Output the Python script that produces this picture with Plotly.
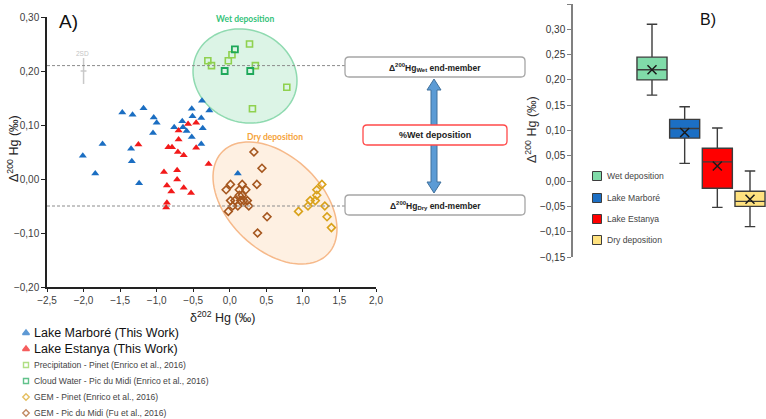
import numpy as np
import plotly.graph_objects as go

# ---------------- data ----------------
marbore_x = [-2.01, -1.84, -1.74, -1.47, -1.33, -1.18, -1.35, -1.34, -1.24, -1.04, -1.00, -1.05,
             -0.76, -0.65, -0.64, -0.59, -0.52, -0.51, -0.52, -0.38, -0.39, -0.37, -0.39, -0.28, 0.11]
marbore_y = [0.043, 0.010, 0.065, 0.123, 0.119, 0.131, 0.056, 0.033, -0.008, 0.114, 0.104, 0.085,
             0.096, 0.107, 0.096, 0.089, 0.130, 0.116, 0.078, 0.145, 0.113, 0.094, 0.065, 0.127, 0.010]

estanya_x = [-1.25, -0.84, -0.79, -0.70, -0.71, -0.70, -0.63, -0.57, -0.46, -0.46, -0.29, -0.90,
             -0.72, -0.72, -0.86, -0.80, -0.63, -0.53, -0.86, -0.87]
estanya_y = [0.064, 0.059, 0.059, 0.090, 0.050, 0.073, 0.044, 0.102, 0.104, 0.058, 0.028, 0.013,
             0.016, -0.001, -0.012, -0.023, -0.016, -0.026, -0.044, -0.053]

precip_x = [-0.30, -0.25, -0.02, 0.03, 0.27, 0.35, 0.78, 0.31]
precip_y = [0.219, 0.210, 0.219, 0.230, 0.250, 0.210, 0.170, 0.130]

cloud_x = [0.07, -0.07, 0.28]
cloud_y = [0.240, 0.200, 0.200]

gem_pinet_x = [0.94, 1.07, 1.10, 1.17, 1.19, 1.19, 1.26, 1.30, 1.33, 1.39]
gem_pinet_y = [-0.060, -0.050, -0.040, -0.040, -0.030, -0.020, -0.010, -0.050, -0.070, -0.090]

gem_pdm_x = [0.33, 0.44, 0.37, -0.05, 0.01, 0.17, 0.13, 0.22, 0.17, 0.01, 0.07, 0.19, 0.24, 0.15,
             0.04, 0.11, 0.26, -0.02, 0.51, 0.38, 0.13]
gem_pdm_y = [0.050, 0.020, -0.010, -0.020, -0.010, -0.010, -0.020, -0.020, -0.030, -0.040, -0.040,
             -0.040, -0.040, -0.040, -0.050, -0.050, -0.050, -0.060, -0.070, -0.100, -0.030]

wet_end_member = 0.21
dry_end_member = -0.05
sd2_x, sd2_y, sd2_err_y, sd2_err_x = -2.0, 0.20, 0.024, 0.04

box_names = ["Wet deposition", "Lake Marboré", "Lake Estanya", "Dry deposition"]
box_q1 = [0.200, 0.085, -0.014, -0.050]
box_median = [0.220, 0.104, 0.038, -0.040]
box_q3 = [0.245, 0.122, 0.065, -0.020]
box_low = [0.170, 0.035, -0.052, -0.090]
box_high = [0.310, 0.147, 0.105, 0.020]
box_mean = [0.220, 0.096, 0.030, -0.036]

legend_a_labels = ["Lake Marboré (This Work)", "Lake Estanya (This Work)",
                   "Precipitation - Pinet (Enrico et al., 2016)",
                   "Cloud Water - Pic du Midi (Enrico et al., 2016)",
                   "GEM - Pinet (Enrico et al., 2016)",
                   "GEM - Pic du Midi (Fu et al., 2016)"]

# ---------------- styles ----------------
W, H = 766, 419
FONT = "Liberation Sans, Arial, sans-serif"
C_BLUE = "#1b6ec2"
C_RED = "#f21a1a"
C_PRECIP = "#8fd14f"
C_CLOUD = "#1ea85a"
C_PINET = "#d9a21b"
C_PDM = "#a5561e"
BOX_FILL = ["#80dba9", "#1c6fc4", "#ff0000", "#ffe27f"]

# pixel geometry of panel A
AX_L, AX_R, AX_T, AX_B = 47, 376, 17, 287
XR = [-2.5, 2.0]
YR = [-0.20, 0.30]
sx = (AX_R - AX_L) / (XR[1] - XR[0])
sy = (AX_B - AX_T) / (YR[1] - YR[0])

def px2data(px, py):
    return XR[0] + (px - AX_L) / sx, YR[1] - (py - AX_T) / sy

fig = go.Figure()

# ellipses (pixel-space ellipse params -> data coordinates)
def ellipse_path(cpx, cpy, a, b, ang_deg):
    t = np.linspace(0, 2 * np.pi, 90)
    th = np.radians(ang_deg)
    ex = cpx + a * np.cos(t) * np.cos(th) - b * np.sin(t) * np.sin(th)
    ey = cpy + a * np.cos(t) * np.sin(th) + b * np.sin(t) * np.cos(th)
    pts = [px2data(u, v) for u, v in zip(ex, ey)]
    return "M " + " L ".join(f"{u:.4f},{v:.4f}" for u, v in pts) + " Z"

shapes = []
shapes.append(dict(type="path", xref="x", yref="y", layer="below",
                   path=ellipse_path(245, 76, 53, 46, 23),
                   fillcolor="rgba(130,215,165,0.28)", line=dict(color="#8fdab0", width=1.5)))
shapes.append(dict(type="path", xref="x", yref="y", layer="below",
                   path=ellipse_path(275, 203, 73.5, 46.6, 44),
                   fillcolor="rgba(250,195,140,0.25)", line=dict(color="#f6b98a", width=1.5)))

# dashed end-member lines
x_end = px2data(345, 0)[0]
for yv in (wet_end_member, dry_end_member):
    shapes.append(dict(type="line", xref="x", yref="y", x0=XR[0], x1=x_end, y0=yv, y1=yv,
                       line=dict(color="#8c8c8c", width=1, dash="3px,2px"), layer="above"))

# scatter series
mk_tri = dict(symbol="triangle-up", size=7)
fig.add_trace(go.Scatter(x=marbore_x, y=marbore_y, mode="markers", name=legend_a_labels[0],
                         marker=dict(color=C_BLUE, **mk_tri), showlegend=False))
fig.add_trace(go.Scatter(x=estanya_x, y=estanya_y, mode="markers", name=legend_a_labels[1],
                         marker=dict(color=C_RED, **mk_tri), showlegend=False))
fig.add_trace(go.Scatter(x=precip_x, y=precip_y, mode="markers", name=legend_a_labels[2],
                         marker=dict(symbol="square-open", size=6, color=C_PRECIP, line=dict(width=1.6)),
                         showlegend=False))
fig.add_trace(go.Scatter(x=cloud_x, y=cloud_y, mode="markers", name=legend_a_labels[3],
                         marker=dict(symbol="square-open", size=6, color=C_CLOUD, line=dict(width=1.8)),
                         showlegend=False))
fig.add_trace(go.Scatter(x=gem_pinet_x, y=gem_pinet_y, mode="markers", name=legend_a_labels[4],
                         marker=dict(symbol="diamond-open", size=6, color=C_PINET, line=dict(width=1.6)),
                         showlegend=False))
fig.add_trace(go.Scatter(x=gem_pdm_x, y=gem_pdm_y, mode="markers", name=legend_a_labels[5],
                         marker=dict(symbol="diamond-open", size=6, color=C_PDM, line=dict(width=1.6)),
                         showlegend=False))
# 2SD marker
fig.add_trace(go.Scatter(x=[sd2_x], y=[sd2_y], mode="markers", marker=dict(size=1, color="#c8c8c8"),
                         error_y=dict(type="constant", value=sd2_err_y, color="#c8c8c8", thickness=1.5, width=0),
                         error_x=dict(type="constant", value=sd2_err_x, color="#c8c8c8", thickness=1.5, width=0),
                         showlegend=False, hoverinfo="skip"))

# ---------------- panel B boxes ----------------
for i, nm in enumerate(box_names):
    fig.add_trace(go.Box(x=[i], q1=[box_q1[i]], median=[box_median[i]], q3=[box_q3[i]],
                         lowerfence=[box_low[i]], upperfence=[box_high[i]], name=nm,
                         fillcolor=BOX_FILL[i], line=dict(color="#3c3c3c", width=1.4),
                         width=0.92, whiskerwidth=0.35, boxpoints=False,
                         xaxis="x2", yaxis="y2", showlegend=False))
fig.add_trace(go.Scatter(x=list(range(len(box_names))), y=box_mean, mode="markers",
                         marker=dict(symbol="x-thin", size=9, line=dict(width=1.5, color="#1a1a1a")),
                         xaxis="x2", yaxis="y2", showlegend=False, hoverinfo="skip"))

# ---------------- manual legends on a pixel overlay axis ----------------
leg_y = [333, 349, 365, 381, 397, 413]
leg_sym = ["triangle-up", "triangle-up", "square-open", "square-open", "diamond-open", "diamond-open"]
leg_col = [C_BLUE, C_RED, C_PRECIP, C_CLOUD, C_PINET, C_PDM]
leg_size = [6, 6, 5, 5, 5, 5]
fig.add_trace(go.Scatter(x=[26] * 6, y=leg_y, mode="markers", xaxis="x3", yaxis="y3",
                         marker=dict(symbol=leg_sym, color=leg_col, size=leg_size, line=dict(width=1.4, color=leg_col)),
                         showlegend=False, hoverinfo="skip"))
leg_b_y = [176, 198, 219, 240]
fig.add_trace(go.Scatter(x=[597] * 4, y=leg_b_y, mode="markers", xaxis="x3", yaxis="y3",
                         marker=dict(symbol="square", color=BOX_FILL, size=9, line=dict(width=1, color="#3c3c3c")),
                         showlegend=False, hoverinfo="skip"))

annotations = []
for i, lab in enumerate(legend_a_labels):
    big = i < 2
    annotations.append(dict(x=32, y=leg_y[i], xref="x3", yref="y3", text=lab, showarrow=False,
                            xanchor="left", yanchor="middle",
                            font=dict(family=FONT, size=12.5 if big else 8.6, color="#111" if big else "#444")))
for i, lab in enumerate(box_names):
    annotations.append(dict(x=605, y=leg_b_y[i], xref="x3", yref="y3", text=lab, showarrow=False,
                            xanchor="left", yanchor="middle", font=dict(family=FONT, size=8.6, color="#444")))

# arrow
cx, top, bot, sh, hh, hl = 434, 79, 193, 3, 7, 11
arrow_pts = [(cx, top), (cx + hh, top + hl), (cx + sh, top + hl), (cx + sh, bot - hl), (cx + hh, bot - hl),
             (cx, bot), (cx - hh, bot - hl), (cx - sh, bot - hl), (cx - sh, top + hl), (cx - hh, top + hl)]
shapes.append(dict(type="path", xref="x3", yref="y3", layer="above",
                   path="M " + " L ".join(f"{u},{v}" for u, v in arrow_pts) + " Z",
                   fillcolor="#5b9bd5", line=dict(color="#41719c", width=1)))

def rrect(x0, y0, x1, y1, r=4):
    return (f"M {x0 + r},{y0} L {x1 - r},{y0} Q {x1},{y0} {x1},{y0 + r} L {x1},{y1 - r} "
            f"Q {x1},{y1} {x1 - r},{y1} L {x0 + r},{y1} Q {x0},{y1} {x0},{y1 - r} "
            f"L {x0},{y0 + r} Q {x0},{y0} {x0 + r},{y0} Z")

for (x0, y0, x1, y1, col) in [(345, 57, 525, 77, "#a6a6a6"), (345, 195, 525, 215, "#a6a6a6"),
                              (363, 125, 507, 145, "#ff4a4a")]:
    shapes.append(dict(type="path", xref="x3", yref="y3", layer="above", path=rrect(x0, y0, x1, y1),
                       fillcolor="white", line=dict(color=col, width=1.3)))

box_font = dict(family=FONT, size=8.5, color="#222")
annotations += [
    dict(x=435, y=67, xref="x3", yref="y3", showarrow=False,
         text="<b>Δ<sup>200</sup>Hg<sub>Wet</sub> end-member</b>", font=box_font),
    dict(x=435, y=205, xref="x3", yref="y3", showarrow=False,
         text="<b>Δ<sup>200</sup>Hg<sub>Dry</sub> end-member</b>", font=box_font),
    dict(x=435, y=135, xref="x3", yref="y3", showarrow=False,
         text="<b>%Wet deposition</b>", font=dict(family=FONT, size=9, color="#222")),
    dict(x=245, y=19, xref="x3", yref="y3", showarrow=False, text="<b>Wet deposition</b>",
         font=dict(family="Lato, " + FONT, size=8.5, color="#35c27a")),
    dict(x=275, y=137, xref="x3", yref="y3", showarrow=False, text="<b>Dry deposition</b>",
         font=dict(family="Lato, " + FONT, size=8.5, color="#f5a33a")),
    dict(x=82, y=53, xref="x3", yref="y3", showarrow=False, text="2SD",
         font=dict(family=FONT, size=6.5, color="#c4c4c4")),
    dict(x=57, y=21, xref="x3", yref="y3", showarrow=False, text="A)", xanchor="left",
         font=dict(family=FONT, size=19, color="#111")),
    dict(x=698, y=19, xref="x3", yref="y3", showarrow=False, text="B)", xanchor="left",
         font=dict(family=FONT, size=16, color="#111")),
    dict(x=222, y=317, xref="x3", yref="y3", showarrow=False, text="δ<sup>202</sup> Hg (‰)",
         font=dict(family=FONT, size=12.5, color="#222")),
    dict(x=13, y=149, xref="x3", yref="y3", showarrow=False, text="Δ<sup>200</sup> Hg (‰)", textangle=-90,
         font=dict(family=FONT, size=12.5, color="#222")),
    dict(x=531, y=130, xref="x3", yref="y3", showarrow=False, text="Δ<sup>200</sup> Hg (‰)", textangle=-90,
         font=dict(family=FONT, size=12.5, color="#333")),
]

# panel B pixel geometry
B_L, B_T, B_B = 573, 4, 257
b_centers_px = [652, 684.7, 717.4, 750]
b_step = (b_centers_px[-1] - b_centers_px[0]) / 3
b_x0 = -(b_centers_px[0] - B_L) / b_step
b_x1 = 3 + (W - b_centers_px[-1]) / b_step

tickfont = dict(family=FONT, size=10, color="#404040")
fig.update_layout(
    width=W, height=H, autosize=False,
    margin=dict(l=0, r=0, t=0, b=0, pad=0, autoexpand=False),
    paper_bgcolor="white", plot_bgcolor="rgba(0,0,0,0)",
    separators=",.",
    showlegend=False,
    shapes=shapes, annotations=annotations,
    xaxis=dict(domain=[AX_L / W, AX_R / W], range=XR, dtick=0.5, tick0=-2.5, tickformat=".1f",
               showline=True, linecolor="#222", linewidth=1.5, ticks="outside", ticklen=3, tickcolor="#222",
               showgrid=False, zeroline=False, tickfont=tickfont, anchor="y", automargin=False),
    yaxis=dict(domain=[1 - AX_B / H, 1 - AX_T / H], range=YR, dtick=0.1, tick0=-0.2, tickformat=".2f",
               showline=True, linecolor="#222", linewidth=1.5, ticks="outside", ticklen=4, tickcolor="#222",
               showgrid=False, zeroline=False, tickfont=tickfont, anchor="x", automargin=False),
    xaxis2=dict(domain=[B_L / W, 1.0], range=[b_x0, b_x1], visible=False, anchor="y2", automargin=False),
    yaxis2=dict(domain=[1 - B_B / H, 1 - B_T / H], range=[-0.15, 0.35], dtick=0.05, tick0=-0.15,
                tickformat=".2f", showline=True, linecolor="#808080", linewidth=1.5, ticks="outside",
                ticklen=4, tickcolor="#808080", showgrid=False, zeroline=False,
                tickfont=dict(family=FONT, size=10, color="#333"), anchor="x2", automargin=False),
    xaxis3=dict(domain=[0, 1], range=[0, W], visible=False, anchor="y3", fixedrange=True, automargin=False),
    yaxis3=dict(domain=[0, 1], range=[H, 0], visible=False, anchor="x3", fixedrange=True, automargin=False),
)

fig.write_html("out.html", config={"displayModeBar": False},
               post_script="document.body.style.margin='0px';document.body.style.overflow='hidden';")
